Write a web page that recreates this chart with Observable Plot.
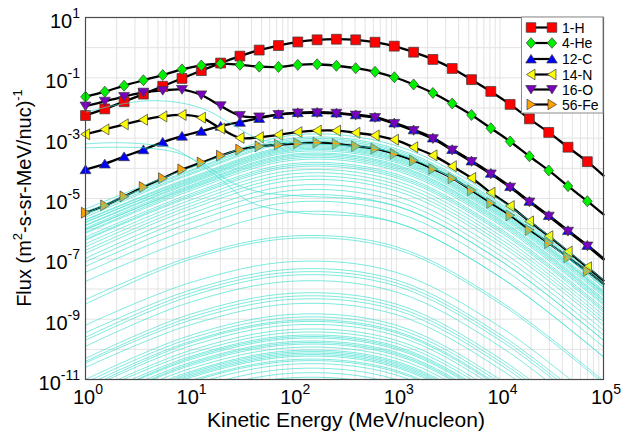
<!DOCTYPE html>
<html><head><meta charset="utf-8">
<script src="https://cdn.jsdelivr.net/npm/d3@7"></script>
<script src="https://cdn.jsdelivr.net/npm/@observablehq/plot@0.6"></script>
<style>
body{margin:0;background:#fff;}
#chart{width:625px;height:435px;}
</style>
</head><body><div id="chart"></div>
<script>
// ---------- data (log10 of flux) ----------
const markerEnergy = [1, 1.536, 2.359, 3.622, 5.564, 8.54, 13.12, 20.15, 30.94, 47.5, 72.9, 112.0, 172.0, 264.1, 405.7, 623, 957, 1469, 2256, 3465, 5321, 8172, 12550, 19270, 29600, 45450, 69800];
const endEnergy = 100000;
const seriesNames = ["1-H", "4-He", "12-C", "14-N", "16-O", "56-Fe"];
const logH  = [-2.25,-2.03,-1.79,-1.54,-1.28,-1.02,-0.76,-0.51,-0.28,-0.08,0.07,0.19,0.26,0.28,0.26,0.18,0.05,-0.15,-0.39,-0.69,-1.06,-1.45,-1.88,-2.36,-2.81,-3.30,-3.78,-4.24];
const logHe = [-1.63,-1.46,-1.26,-1.08,-0.91,-0.72,-0.59,-0.53,-0.57,-0.63,-0.64,-0.57,-0.55,-0.60,-0.68,-0.80,-0.98,-1.22,-1.50,-1.85,-2.23,-2.67,-3.11,-3.60,-4.07,-4.59,-5.09,-5.53];
const logC  = [-4.04,-3.85,-3.61,-3.38,-3.13,-2.93,-2.77,-2.60,-2.47,-2.34,-2.21,-2.15,-2.14,-2.16,-2.22,-2.30,-2.49,-2.72,-2.99,-3.37,-3.75,-4.16,-4.60,-5.09,-5.56,-6.06,-6.55,-6.99];
const logN  = [-2.87,-2.71,-2.54,-2.39,-2.28,-2.23,-2.32,-2.68,-2.99,-2.97,-2.89,-2.80,-2.75,-2.75,-2.82,-2.91,-3.05,-3.30,-3.57,-3.93,-4.32,-4.81,-5.25,-5.76,-6.25,-6.76,-7.28,-7.72];
const logO  = [-1.94,-1.78,-1.62,-1.48,-1.42,-1.39,-1.57,-1.93,-2.25,-2.30,-2.22,-2.17,-2.16,-2.18,-2.24,-2.32,-2.52,-2.75,-3.02,-3.40,-3.78,-4.19,-4.63,-5.12,-5.59,-6.09,-6.58,-7.02];
const logFe = [-5.47,-5.23,-4.93,-4.62,-4.33,-4.04,-3.81,-3.58,-3.38,-3.27,-3.22,-3.17,-3.15,-3.19,-3.27,-3.35,-3.52,-3.74,-4.02,-4.33,-4.73,-5.15,-5.56,-6.04,-6.48,-6.95,-7.41,-7.83];
const seriesLogs = [logH, logHe, logC, logN, logO, logFe];
const seriesColors = ["#ff0000", "#00f000", "#0000ff", "#ffff00", "#7a00c0", "#ffa000"];

// other species (thin turquoise curves): log10 flux at 1, 10, 100, 1000, 1e4, 1e5 MeV/n
const cyanEnergy = [1, 10, 100, 1000, 10000, 100000];
const cyanCurves = [
 [-5.35,-4.00,-2.90,-3.25,-5.05,-7.70],[-5.45,-4.08,-3.00,-3.35,-5.15,-7.80],[-5.50,-4.12,-3.05,-3.40,-5.20,-7.85],
 [-5.55,-4.18,-3.10,-3.45,-5.25,-7.90],[-5.62,-4.22,-3.15,-3.50,-5.30,-7.95],[-5.70,-4.32,-3.25,-3.60,-5.40,-8.05],
 [-5.72,-4.36,-3.29,-3.64,-5.44,-8.10],[-5.80,-4.40,-3.33,-3.68,-5.48,-8.12],[-5.78,-4.44,-3.37,-3.72,-5.52,-8.15],
 [-5.88,-4.48,-3.41,-3.76,-5.56,-8.20],[-5.90,-4.52,-3.46,-3.81,-5.61,-8.25],[-5.98,-4.58,-3.53,-3.88,-5.68,-8.33],
 [-6.05,-4.62,-3.57,-3.92,-5.72,-8.38],[-6.02,-4.66,-3.62,-3.97,-5.77,-8.42],[-6.12,-4.70,-3.67,-4.02,-5.82,-8.48],
 [-6.15,-4.76,-3.73,-4.08,-5.88,-8.53],[-6.28,-4.86,-3.84,-4.19,-5.99,-8.64],[-6.35,-4.92,-3.90,-4.25,-6.05,-8.70],
 [-6.38,-4.97,-3.96,-4.31,-6.11,-8.76],[-6.50,-5.07,-4.07,-4.42,-6.22,-8.87],[-6.60,-5.17,-4.18,-4.53,-6.33,-8.98],
 [-6.72,-5.27,-4.29,-4.64,-6.44,-9.09],[-6.82,-5.37,-4.40,-4.75,-6.55,-9.20],[-6.98,-5.52,-4.57,-4.92,-6.72,-9.37],
 [-7.10,-5.66,-4.73,-5.08,-6.88,-9.53],[-7.25,-5.82,-4.90,-5.25,-7.05,-9.70],[-7.45,-6.03,-5.12,-5.47,-7.27,-9.92],
 [-7.75,-6.35,-5.45,-5.80,-7.60,-10.25],
 [-8.35,-6.95,-6.24,-6.60,-8.40,-11.05],[-8.50,-7.03,-6.32,-6.68,-8.48,-11.13],[-9.20,-7.80,-7.09,-7.45,-9.25,-11.90],
 [-9.45,-8.05,-7.34,-7.70,-9.50,-12.15],[-9.60,-8.15,-7.44,-7.80,-9.60,-12.25],[-9.70,-8.25,-7.54,-7.90,-9.70,-12.35],
 [-9.90,-8.45,-7.74,-8.10,-9.90,-12.55],[-10.30,-8.85,-8.14,-8.50,-10.30,-12.95],[-10.40,-8.95,-8.24,-8.60,-10.40,-13.05],
 [-10.45,-9.05,-8.34,-8.70,-10.50,-13.15],[-10.60,-9.20,-8.49,-8.85,-10.65,-13.30],[-11.00,-9.55,-8.84,-9.20,-11.00,-13.65],
 [-11.10,-9.65,-8.94,-9.30,-11.10,-13.75],[-11.20,-9.75,-9.04,-9.40,-11.20,-13.85],[-11.30,-9.80,-9.09,-9.45,-11.25,-13.90],
 [-11.35,-9.90,-9.19,-9.55,-11.35,-14.00],[-11.50,-10.05,-9.34,-9.70,-11.50,-14.15],[-11.55,-10.15,-9.44,-9.80,-11.60,-14.25],
 [-11.70,-10.25,-9.54,-9.90,-11.70,-14.35],[-11.80,-10.30,-9.59,-9.95,-11.75,-14.40],[-11.80,-10.35,-9.64,-10.00,-11.80,-14.45],
 [-11.90,-10.45,-9.74,-10.10,-11.90,-14.55],[-12.00,-10.50,-9.79,-10.15,-11.95,-14.60],[-12.00,-10.55,-9.84,-10.20,-12.00,-14.65],
 [-12.10,-10.65,-9.94,-10.30,-12.10,-14.75],[-12.20,-10.75,-10.04,-10.40,-12.20,-14.85],[-12.30,-10.80,-10.09,-10.45,-12.25,-14.90],
 [-12.30,-10.85,-10.14,-10.50,-12.30,-14.95],[-12.35,-10.90,-10.19,-10.55,-12.35,-15.00],[-12.40,-10.95,-10.24,-10.60,-12.40,-15.05],
 [-12.50,-11.05,-10.34,-10.70,-12.50,-15.15],[-12.60,-11.10,-10.39,-10.75,-12.55,-15.20],[-12.65,-11.20,-10.49,-10.85,-12.65,-15.30],
 [-12.80,-11.35,-10.64,-11.00,-12.80,-15.45],[-12.95,-11.50,-10.79,-11.15,-12.95,-15.60],[-13.10,-11.65,-10.94,-11.30,-13.10,-15.75]
];
// curves with a low-energy (anomalous) component
const acrEnergyA = [1, 2, 4, 8, 15, 27, 49, 100, 1000, 10000, 100000];
const acrLogA    = [-2.14,-1.90,-1.76,-1.82,-2.08,-2.58,-3.05,-3.15,-3.50,-5.30,-7.95];
const acrEnergyB = [1, 1.9, 3.9, 7.1, 11.9, 20, 39, 100, 1000, 10000, 100000];
const acrLogB    = [-3.19,-3.15,-3.20,-3.35,-3.80,-4.35,-5.12,-5.45,-5.80,-7.60,-10.25];
const acrEnergyC = [1, 2, 4, 8, 15, 27, 50, 100, 1000, 10000, 100000];
const acrLogC    = [-3.32,-3.30,-3.33,-3.50,-3.95,-4.50,-4.80,-4.90,-5.25,-7.05,-9.70];

const xTickExps = [0, 1, 2, 3, 4, 5];
const yTickExps = [1, -1, -3, -5, -7, -9, -11];

// ---------- build tables ----------
const lineRows = [], dotRows = seriesNames.map(() => []);
seriesLogs.forEach((arr, s) => {
  arr.forEach((v, i) => {
    const E = i < markerEnergy.length ? markerEnergy[i] : endEnergy;
    const row = {E, F: 10 ** v, s};
    lineRows.push(row);
    if (i < markerEnergy.length) dotRows[s].push(row);
  });
});
const cyanRows = [];
cyanCurves.forEach((c, id) => c.forEach((v, i) => cyanRows.push({E: cyanEnergy[i], F: 10 ** v, id})));
[[acrEnergyA, acrLogA], [acrEnergyB, acrLogB], [acrEnergyC, acrLogC]].forEach(([en, lg], j) =>
  lg.forEach((v, i) => cyanRows.push({E: en[i], F: 10 ** v, id: 1000 + j})));

const xGrid = [];
for (let d = 0; d < 5; d++) for (let m = 1; m < 10; m++) xGrid.push(m * 10 ** d);
xGrid.push(1e5);
const yGrid = d3.range(-11, 2).map(e => 10 ** e);

// ---------- symbols ----------
function tri(angle) {
  return {draw(ctx, size) {
    const r = Math.sqrt(size / Math.PI), c = Math.cos(angle), s = Math.sin(angle);
    [[0, -0.85], [1, 0.75], [-1, 0.75]].forEach(([x, y], i) => {
      const X = r * (x * c - y * s), Y = r * (x * s + y * c);
      i ? ctx.lineTo(X, Y) : ctx.moveTo(X, Y);
    });
    ctx.closePath();
  }};
}
const squareSym = {draw(ctx, size) { const r = Math.sqrt(size / Math.PI) * 0.9; ctx.rect(-r, -r, 2 * r, 2 * r); }};
const diamondSym = {draw(ctx, size) { const r = Math.sqrt(size / Math.PI);
  ctx.moveTo(0, -r); ctx.lineTo(0.88 * r, 0); ctx.lineTo(0, r); ctx.lineTo(-0.88 * r, 0); ctx.closePath(); }};
const symbols = [squareSym, diamondSym, tri(0), tri(-Math.PI / 2), tri(Math.PI), tri(Math.PI / 2)];

// ---------- plot ----------
const chart = Plot.plot({
  width: 625, height: 435,
  marginTop: 17, marginRight: 22, marginBottom: 56, marginLeft: 85,
  style: {background: "#fff", fontFamily: "'Liberation Sans', Arial, sans-serif"},
  x: {type: "log", domain: [1, 1e5], axis: null},
  y: {type: "log", domain: [1e-11, 10], axis: null},
  marks: [
    Plot.ruleX(xGrid, {stroke: "#e3e3e3", strokeWidth: 1}),
    Plot.ruleY(yGrid, {stroke: "#e3e3e3", strokeWidth: 1}),
    Plot.line(lineRows, {x: "E", y: "F", z: "s", stroke: "#000", strokeWidth: 2.3, curve: "catmull-rom"}),
    ...dotRows.map((rows, s) => Plot.dot(rows, {x: "E", y: "F", symbol: symbols[s], r: 5.5,
      fill: seriesColors[s], stroke: "#3a3a3a", strokeWidth: 0.7})),
    Plot.line(cyanRows, {x: "E", y: "F", z: "id", stroke: "#40e0d0", strokeWidth: 0.9, strokeOpacity: 0.75,
      curve: "catmull-rom", clip: true}),
    Plot.frame({stroke: "#4a4a4a", strokeWidth: 1.2})
  ]
});
document.getElementById("chart").appendChild(chart);

// ---------- tick labels, titles, legend ----------
const svg = d3.select(chart);
const xs = chart.scale("x"), ys = chart.scale("y");
const FONT = "'Liberation Sans', Arial, sans-serif";
const g = svg.append("g").attr("font-family", FONT).attr("fill", "#000");
xTickExps.forEach(e => {
  const t = g.append("text").attr("x", xs.apply(10 ** e) + 3).attr("y", 404)
    .attr("text-anchor", "middle").attr("font-size", 20);
  t.append("tspan").text("10");
  t.append("tspan").attr("dy", -10).attr("font-size", 14).text(String(e));
});
yTickExps.forEach(e => {
  const y0 = ys.apply(10 ** e);
  const t = g.append("text").attr("x", 80).attr("y", y0 + 11)
    .attr("text-anchor", "end").attr("font-size", 20);
  t.append("tspan").text("10");
  t.append("tspan").attr("dy", -10).attr("font-size", 14).text(e < 0 ? "-" + (-e) : String(e));
});
g.append("text").attr("x", 346).attr("y", 427).attr("text-anchor", "middle").attr("font-size", 21)
  .text("Kinetic Energy (MeV/nucleon)");
const yt = g.append("text").attr("transform", "translate(31,198) rotate(-90)")
  .attr("text-anchor", "middle").attr("font-size", 20);
yt.append("tspan").text("Flux (m");
yt.append("tspan").attr("dy", -9).attr("font-size", 13).text("2");
yt.append("tspan").attr("dy", 9).text("-s-sr-MeV/nuc)");
yt.append("tspan").attr("dy", -9).attr("font-size", 13).text("-1");

// legend
const lg = svg.append("g").attr("font-family", FONT);
lg.append("rect").attr("x", 521.5).attr("y", 17).attr("width", 81.5).attr("height", 96)
  .attr("fill", "#fff").attr("stroke", "#8a8a8a").attr("stroke-width", 1);
const legY = [27.5, 43, 59, 74.5, 89.5, 104.5];
seriesNames.forEach((name, s) => {
  const y = legY[s];
  lg.append("line").attr("x1", 531).attr("x2", 552).attr("y1", y).attr("y2", y)
    .attr("stroke", "#000").attr("stroke-width", 2.2);
  [531, 552].forEach(x => lg.append("path")
    .attr("d", d3.symbol(symbols[s], Math.PI * 5.3 * 5.3)())
    .attr("transform", `translate(${x},${y})`)
    .attr("fill", seriesColors[s]).attr("stroke", "#3a3a3a").attr("stroke-width", 0.7));
  lg.append("text").attr("x", 562).attr("y", y + 5).attr("text-anchor", "start")
    .attr("font-size", 14).attr("fill", "#000").text(name);
});
</script>
</body></html>
